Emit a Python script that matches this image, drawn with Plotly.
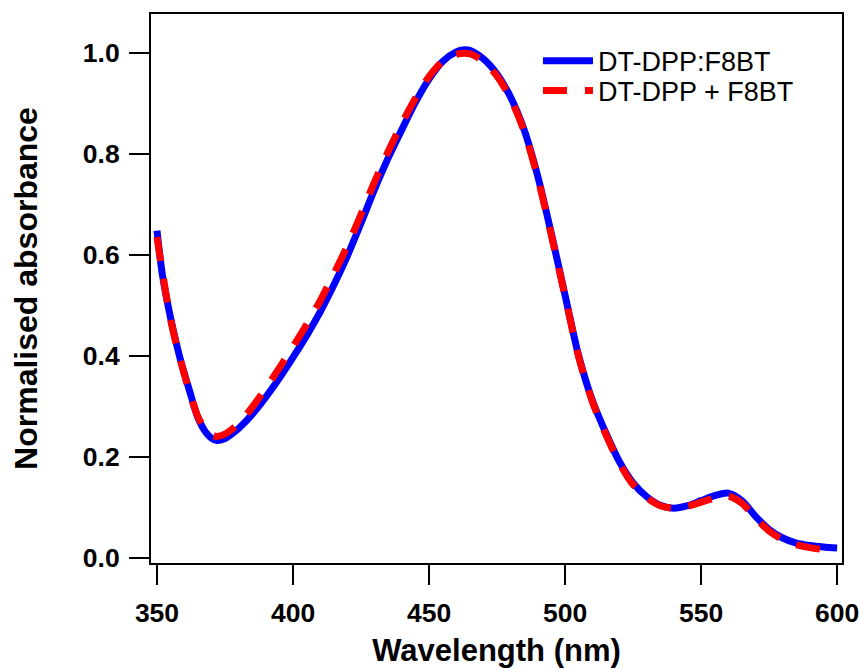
import plotly.graph_objects as go

# Wavelength (nm) and normalised absorbance values
wl_blend = [350, 352, 355, 358, 360, 362, 365, 368, 370, 372, 375, 378, 380, 385, 390, 395,
            400, 405, 410, 415, 420, 425, 430, 435, 440, 445, 450, 455, 460, 463, 465, 470,
            475, 480, 485, 490, 495, 500, 505, 510, 515, 520, 525, 530, 535, 540, 545, 550,
            555, 560, 565, 570, 575, 580, 585, 590, 595, 600]
abs_blend = [0.648, 0.560, 0.475, 0.405, 0.366, 0.330, 0.278, 0.248, 0.237, 0.232, 0.236, 0.247,
             0.256, 0.284, 0.318, 0.356, 0.397, 0.440, 0.487, 0.540, 0.598, 0.663, 0.730, 0.792,
             0.848, 0.902, 0.948, 0.983, 1.002, 1.006, 1.005, 0.988, 0.958, 0.912, 0.847, 0.755,
             0.641, 0.520, 0.400, 0.312, 0.247, 0.190, 0.148, 0.121, 0.104, 0.098, 0.103, 0.113,
             0.123, 0.128, 0.113, 0.082, 0.056, 0.039, 0.029, 0.024, 0.021, 0.019]

wl_sum = [350, 355, 360, 365, 368, 370, 372, 375, 380, 385, 390, 395, 400, 405, 410, 415,
          420, 425, 430, 435, 440, 445, 450, 455, 460, 465, 470, 475, 480, 485, 490, 495,
          500, 505, 510, 515, 520, 525, 530, 535, 540, 545, 550, 555, 560, 565, 570, 575,
          580, 585, 590, 595, 600]
abs_sum = [0.635, 0.472, 0.364, 0.280, 0.252, 0.243, 0.240, 0.245, 0.266, 0.298, 0.336, 0.376,
           0.418, 0.462, 0.509, 0.562, 0.618, 0.680, 0.745, 0.805, 0.860, 0.910, 0.953, 0.983,
           0.997, 0.998, 0.983, 0.954, 0.909, 0.844, 0.752, 0.638, 0.518, 0.398, 0.310, 0.244,
           0.187, 0.145, 0.119, 0.103, 0.098, 0.102, 0.110, 0.118, 0.122, 0.108, 0.079, 0.053,
           0.036, 0.026, 0.020, 0.016, 0.013]

x_ticks = [350, 400, 450, 500, 550, 600]
y_ticks = [0.0, 0.2, 0.4, 0.6, 0.8, 1.0]
y_tick_labels = ["0.0", "0.2", "0.4", "0.6", "0.8", "1.0"]

FONT = "Liberation Sans, Arial, sans-serif"

fig = go.Figure()
fig.add_trace(go.Scatter(x=wl_blend, y=abs_blend, mode="lines", name="DT-DPP:F8BT",
                         legend="legend",
                         line=dict(color="#0000ff", width=7, shape="spline", smoothing=0.8)))
fig.add_trace(go.Scatter(x=wl_sum, y=abs_sum, mode="lines", name="DT-DPP + F8BT",
                         legend="legend2",
                         line=dict(color="#ff0000", width=7, dash="24px,18px",
                                   shape="spline", smoothing=0.8)))

axis_common = dict(showgrid=False, zeroline=False, showline=True, linecolor="black",
                   linewidth=2, mirror=True, ticks="outside", ticklen=20, tickwidth=2,
                   tickcolor="black", ticklabeloverflow="allow", automargin=False,
                   tickfont=dict(family=FONT, size=26.5, color="black", weight="bold"))

fig.update_xaxes(range=[347.8, 601.8], tickvals=x_ticks, ticklabelstandoff=5,
                 title=dict(text="Wavelength (nm)", standoff=14,
                            font=dict(family=FONT, size=31, color="black", weight="bold")),
                 **axis_common)
fig.update_yaxes(range=[-0.0105, 1.077], tickvals=y_ticks, ticktext=y_tick_labels,
                 ticklabelstandoff=4,
                 title=dict(text="Normalised absorbance", standoff=36,
                            font=dict(family=FONT, size=32, color="black", weight="bold")),
                 **axis_common)

legend_common = dict(xanchor="left", yanchor="middle", bgcolor="rgba(0,0,0,0)",
                     itemwidth=50, borderwidth=0,
                     font=dict(family=FONT, size=27, color="black"))
fig.update_layout(
    width=859, height=668,
    margin=dict(l=151, r=17, t=14, b=105, autoexpand=False),
    plot_bgcolor="white", paper_bgcolor="white",
    showlegend=True,
    legend=dict(x=0.56, y=0.914, **legend_common),
    legend2=dict(x=0.56, y=0.860, **legend_common),
)

fig.write_html("out.html")
